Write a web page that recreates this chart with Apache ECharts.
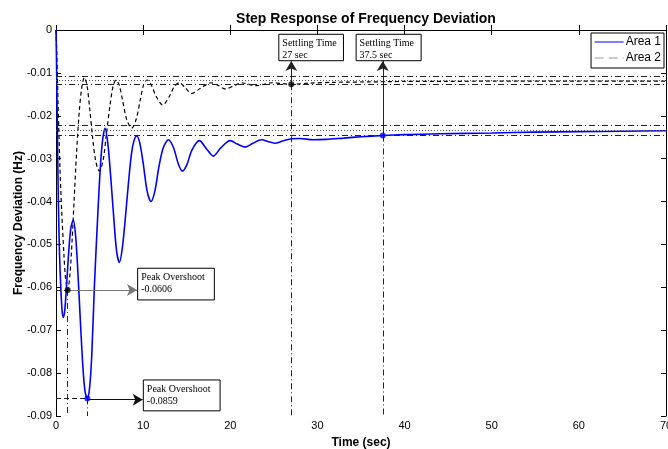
<!DOCTYPE html>
<html>
<head>
<meta charset="utf-8">
<script src="https://cdn.jsdelivr.net/npm/echarts@6/dist/echarts.min.js"></script>
<style>html,body{margin:0;padding:0;background:#fff;}#c{width:668px;height:449px;}</style>
</head>
<body>
<div id="c"></div>
<script>
// ---- data ----
const time1 = [0, 0.05, 0.15, 0.27, 0.4, 0.55, 0.7, 0.84, 1.0, 1.2, 1.45, 1.7, 1.99, 2.25, 2.5, 2.8, 3.1, 3.35, 3.6, 3.85, 4.1, 4.4, 4.7, 5.0, 5.3, 5.63, 5.95, 6.25, 6.6, 6.95, 7.27, 7.6, 7.95, 8.3, 8.65, 8.95, 9.26, 9.6, 10.0, 10.45, 10.9, 11.35, 11.8, 12.3, 12.9, 13.5, 14.0, 14.5, 15.0, 15.6, 16.45, 17.3, 18.06, 18.9, 20.0, 20.8, 21.7, 22.6, 23.6, 24.3, 25.1, 26.0, 26.9, 28.0, 29.5, 31, 33, 35, 37.5, 40, 44, 50, 55, 60, 65, 70];
const area1 = [0, -0.006, -0.022, -0.04, -0.052, -0.06, -0.0655, -0.067, -0.0655, -0.060, -0.052, -0.0462, -0.0443, -0.048, -0.056, -0.068, -0.079, -0.0845, -0.0859, -0.0835, -0.076, -0.060, -0.047, -0.035, -0.0265, -0.0229, -0.0265, -0.0335, -0.043, -0.0515, -0.0542, -0.051, -0.044, -0.036, -0.029, -0.0258, -0.0247, -0.0262, -0.031, -0.0375, -0.0400, -0.0375, -0.032, -0.0275, -0.0256, -0.0275, -0.0310, -0.0329, -0.0315, -0.0280, -0.0258, -0.0278, -0.0294, -0.0275, -0.0258, -0.0266, -0.0273, -0.0264, -0.0256, -0.0260, -0.0264, -0.0259, -0.0254, -0.0253, -0.0256, -0.0255, -0.0252, -0.0249, -0.0246, -0.0244, -0.0242, -0.0240, -0.0238, -0.0237, -0.0236, -0.0235];

const time2 = [0, 0.1, 0.25, 0.45, 0.65, 0.9, 1.1, 1.34, 1.6, 1.85, 2.07, 2.35, 2.67, 2.95, 3.25, 3.55, 3.9, 4.2, 4.55, 4.97, 5.4, 5.8, 6.2, 6.55, 6.89, 7.25, 7.65, 8.1, 8.69, 9.2, 9.7, 10.05, 10.45, 10.9, 11.5, 12.25, 13.0, 13.6, 14.16, 14.85, 15.58, 16.5, 17.8, 18.6, 19.4, 20.4, 21.3, 22.0, 22.85, 23.8, 24.8, 26.0, 27, 29, 32, 36, 40, 45, 50, 60, 70];
const area2 = [0, -0.006, -0.018, -0.032, -0.042, -0.052, -0.058, -0.0606, -0.057, -0.049, -0.040, -0.029, -0.019, -0.0135, -0.0111, -0.0128, -0.019, -0.025, -0.0305, -0.0329, -0.0305, -0.024, -0.0175, -0.0131, -0.01166, -0.0128, -0.0165, -0.0208, -0.0229, -0.0208, -0.0160, -0.0128, -0.01166, -0.0127, -0.0155, -0.0175, -0.0155, -0.0131, -0.0123, -0.0135, -0.0148, -0.0137, -0.0123, -0.0129, -0.01375, -0.0130, -0.0123, -0.0126, -0.0130, -0.0127, -0.0123, -0.0125, -0.01266, -0.0124, -0.0122, -0.0121, -0.0120, -0.0120, -0.0119, -0.0119, -0.0119];

const bandArea2 = [-0.0107, -0.01166, -0.0126];
const bandArea1 = [-0.0222, -0.0234, -0.0246];

const peakTimes = [1.34, 3.6];
const peakValues = [-0.0606, -0.0859];
const peakLabels = ['Peak Overshoot\n-0.0606', 'Peak Overshoot\n-0.0859'];

const settleTimes = [27, 37.5];
const settleValues = [-0.01266, -0.0246];
const settleLabels = ['Settling Time\n27 sec', 'Settling Time\n37.5 sec'];

const xTicks = ['0', '10', '20', '30', '40', '50', '60', '70'];
const yTicks = ['0', '-0.01', '-0.02', '-0.03', '-0.04', '-0.05', '-0.06', '-0.07', '-0.08', '-0.09'];
const seriesNames = ['Area 1', 'Area 2'];

// ---- chart ----
const chart = echarts.init(document.getElementById('c'), null, {renderer: 'canvas'});
const pair = (xs, ys) => xs.map((x, i) => [x, ys[i]]);
const dashDot = [6, 3, 1, 3];
const dotted = [1, 2];

const bandLines = [];
[bandArea2, bandArea1].forEach(band => band.forEach((y, i) => bandLines.push([
  {coord: [0, y], symbol: 'none', lineStyle: {type: i === 1 ? dotted : dashDot, color: i === 1 ? '#555' : '#222', width: 1}},
  {coord: [70, y], symbol: 'none'}
])));

const annLines = [];
peakTimes.forEach((t, i) => {
  const v = peakValues[i];
  annLines.push([{coord: [t, v], symbol: 'none', lineStyle: {type: dashDot, color: '#222', width: 1}}, {coord: [t, -0.09], symbol: 'none'}]);
  annLines.push([{coord: [0, v], symbol: 'none', lineStyle: {type: [5, 3], color: '#222', width: 1}}, {coord: [t, v], symbol: 'none'}]);
});
annLines.push([{coord: [peakTimes[0], peakValues[0]], symbol: 'none', lineStyle: {type: 'solid', color: '#777', width: 1.2}}, {coord: [9.3, peakValues[0]], symbol: 'arrow'}]);
annLines.push([{coord: [peakTimes[1], -0.0862], symbol: 'none', lineStyle: {type: 'solid', color: '#111', width: 1}}, {coord: [9.95, -0.0862], symbol: 'arrow'}]);
settleTimes.forEach((t, i) => {
  const v = settleValues[i];
  annLines.push([{coord: [t, v], symbol: 'none', lineStyle: {type: dashDot, color: '#222', width: 1}}, {coord: [t, -0.09], symbol: 'none'}]);
  annLines.push([{coord: [t, v], symbol: 'none', lineStyle: {type: 'solid', color: '#222', width: 1}}, {coord: [t, -0.0072], symbol: 'arrow'}]);
});

const boxes = [
  [{coord: [9.37, -0.05555], name: peakLabels[0]}, {coord: [18.17, -0.06294]}],
  [{coord: [10.02, -0.0816], name: peakLabels[1]}, {coord: [18.83, -0.0888]}],
  [{coord: [25.57, -0.0010], name: settleLabels[0]}, {coord: [32.99, -0.00716]}],
  [{coord: [34.44, -0.0010], name: settleLabels[1]}, {coord: [41.9, -0.00716]}]
];

const axisCommon = {
  type: 'value', min: 0, max: 70, interval: 10,
  axisLine: {show: true, lineStyle: {color: '#000', width: 1}},
  axisTick: {show: true, inside: true, length: 5, lineStyle: {color: '#000'}},
  splitLine: {show: false}
};
const yCommon = {
  type: 'value', min: -0.09, max: 0, interval: 0.01,
  axisLine: {show: true, onZero: false, lineStyle: {color: '#000', width: 1}},
  axisTick: {show: true, inside: true, length: 5, lineStyle: {color: '#000'}},
  splitLine: {show: false}
};

chart.setOption({
  animation: false,
  backgroundColor: '#fff',
  title: {
    text: 'Step Response of Frequency Deviation',
    left: 361, top: 7, textAlign: 'center',
    textStyle: {fontFamily: 'Liberation Sans, Arial', fontWeight: 'bold', fontSize: 14, color: '#000'}
  },
  legend: {
    data: [
      {name: seriesNames[0], lineStyle: {color: '#0000ff', width: 1}},
      {name: seriesNames[1], lineStyle: {color: '#999', width: 1.2, type: [9, 5]}}
    ],
    orient: 'vertical', right: 4, top: 33,
    backgroundColor: '#fff', borderColor: '#000', borderWidth: 1,
    padding: [3, 3, 4, 3], itemGap: 4, itemWidth: 29, itemHeight: 14,
    itemStyle: {opacity: 0},
    textStyle: {fontFamily: 'Liberation Sans, Arial', fontSize: 12, color: '#000', padding: [0, 0, 0, -3]}
  },
  grid: {left: 56, right: 2, top: 30, bottom: 33, outerBoundsMode: 'none', containLabel: false},
  xAxis: [
    Object.assign({}, axisCommon, {
      position: 'bottom',
      axisLabel: {color: '#000', fontFamily: 'Liberation Sans, Arial', fontSize: 11, margin: 4,
        formatter: v => xTicks[Math.round(v / 10)]},
      name: 'Time (sec)', nameLocation: 'middle', nameGap: 21, nameMoveOverlap: false,
      nameTextStyle: {fontFamily: 'Liberation Sans, Arial', fontWeight: 'bold', fontSize: 12, color: '#000', verticalAlign: 'top'}
    }),
    Object.assign({}, axisCommon, {position: 'top', axisLabel: {show: false}})
  ],
  yAxis: [
    Object.assign({}, yCommon, {
      position: 'left',
      axisLabel: {color: '#000', fontFamily: 'Liberation Sans, Arial', fontSize: 11, margin: 4,
        formatter: v => yTicks[Math.round(-v * 100)]},
      name: 'Frequency Deviation (Hz)', nameLocation: 'middle', nameGap: 31, nameRotate: 90, nameMoveOverlap: false,
      nameTextStyle: {fontFamily: 'Liberation Sans, Arial', fontWeight: 'bold', fontSize: 12, color: '#000'}
    }),
    Object.assign({}, yCommon, {position: 'right', axisLabel: {show: false}})
  ],
  series: [
    {
      name: seriesNames[1], type: 'line', data: pair(time2, area2), symbol: 'none', smooth: 0.3,
      lineStyle: {color: '#000', width: 1.2, type: [4, 3]}, itemStyle: {color: '#000'}, z: 3
    },
    {
      name: seriesNames[0], type: 'line', data: pair(time1, area1), symbol: 'none', smooth: 0.3,
      lineStyle: {color: '#0000ff', width: 1.6}, itemStyle: {color: '#0000ff'}, z: 4
    },
    {
      name: '_pts', type: 'scatter', symbolSize: 6, z: 6, silent: true,
      data: [
        {value: [peakTimes[0], peakValues[0]], itemStyle: {color: '#000'}},
        {value: [peakTimes[1], peakValues[1]], itemStyle: {color: '#0000ff'}},
        {value: [settleTimes[0], settleValues[0]], itemStyle: {color: '#000'}},
        {value: [settleTimes[1], settleValues[1]], itemStyle: {color: '#0000ff'}}
      ],
      markLine: {silent: true, symbol: ['none', 'arrow'], symbolSize: [9, 10], label: {show: false},
        data: bandLines.concat(annLines), animation: false},
      markArea: {
        silent: true,
        itemStyle: {color: '#fff', opacity: 1, borderColor: '#000', borderWidth: 1},
        label: {show: true, position: 'insideTopLeft', distance: 4, color: '#000',
          fontFamily: 'Liberation Serif, Times New Roman', fontSize: 10, lineHeight: 12},
        data: boxes
      }
    }
  ]
});
</script>
</body>
</html>
